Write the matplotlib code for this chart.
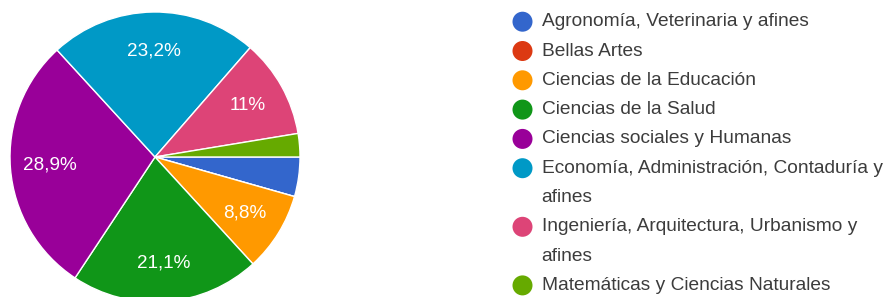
import matplotlib.pyplot as plt
from matplotlib.patches import Circle

plt.rcParams['font.family'] = ['Liberation Sans', 'DejaVu Sans']

W, H = 891, 297

categories = [
    'Agronomía, Veterinaria y afines',
    'Bellas Artes',
    'Ciencias de la Educación',
    'Ciencias de la Salud',
    'Ciencias sociales y Humanas',
    'Economía, Administración, Contaduría y\nafines',
    'Ingeniería, Arquitectura, Urbanismo y\nafines',
    'Matemáticas y Ciencias Naturales',
]
percentages = [4.4, 0.0, 8.8, 21.1, 28.9, 23.2, 11.0, 2.6]
colors = ['#3366cc', '#dc3912', '#ff9900', '#109618', '#990099',
          '#0099c6', '#dd4477', '#66aa00']


def pct_label(p):
    # Google style: comma decimal, drop ".0", hide small slices
    if p < 5:
        return ''
    s = f"{p:.1f}".rstrip('0').rstrip('.')
    return s.replace('.', ',') + '%'


fig = plt.figure(figsize=(W / 100, H / 100), dpi=100)

# pie axes: centre (155,157) px, radius 145 px
cx, cy, r = 155, 157, 145
ax = fig.add_axes([(cx - r) / W, (H - cy - r) / H, 2 * r / W, 2 * r / H])
wedges, texts = ax.pie(
    percentages, colors=colors, startangle=0, counterclock=False,
    labels=[pct_label(p) for p in percentages], labeldistance=0.73,
    wedgeprops=dict(edgecolor='white', linewidth=1.0),
    textprops=dict(color='white', fontsize=13.6),
)
for t in texts:
    t.set_horizontalalignment('center')
    t.set_verticalalignment('center')
ax.set_xlim(-1, 1)
ax.set_ylim(-1, 1)
ax.set_aspect('equal')

# legend drawn by hand so wrapped entries keep the marker on the first line
lax = fig.add_axes([0, 0, 1, 1])
lax.set_xlim(0, W)
lax.set_ylim(H, 0)
lax.axis('off')

y = 21.7
line_h = 29.3
for cat, col in zip(categories, colors):
    lines = cat.split('\n')
    lax.add_patch(Circle((522.5, y), 10, color=col, lw=0))
    for i, ln in enumerate(lines):
        lax.text(541.5, y + i * line_h, ln, fontsize=13.8, color='#3c3c3c',
                 ha='left', va='center')
    y += line_h * len(lines)

fig.savefig('out.png', dpi=100)
